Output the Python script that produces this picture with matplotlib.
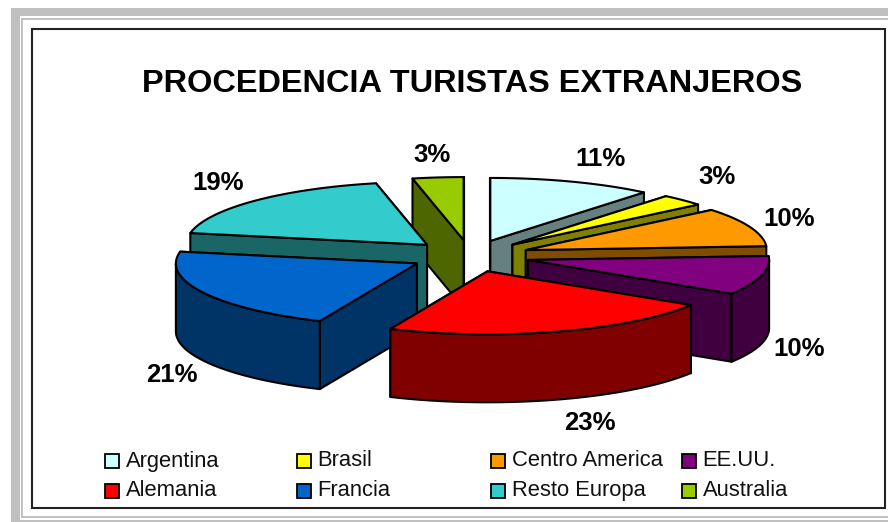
import numpy as np
import matplotlib
matplotlib.use("Agg")
import matplotlib.pyplot as plt
from matplotlib.patches import Polygon, Rectangle

# Share of tourists by country of origin (labels in the chart are rounded)
countries = ["Argentina", "Brasil", "Centro America", "EE.UU.",
             "Alemania", "Francia", "Resto Europa", "Australia"]
shares = [11, 3, 10, 10, 22.6, 21.4, 18.6, 3.4]
top_colors = ["#CCFFFF", "#FFFF00", "#FF9900", "#800080",
              "#FF0000", "#0066CC", "#33CCCC", "#99CC00"]
side_colors = ["#668080", "#808000", "#804D00", "#400040",
               "#800000", "#003366", "#1A6666", "#4D6600"]

# pie geometry, in pixels
CX, CY = 470, 256
RX, RY = 241, 63
EXPLODE_X, EXPLODE_Y = 60, 16
DEPTH = 68
LW = 1.5

fig = plt.figure(figsize=(8.88, 5.22), dpi=100)
ax = fig.add_axes([0, 0, 1, 1])
ax.set_xlim(0, 888)
ax.set_ylim(522, 0)
ax.axis("off")

# grey page border
grey = "#C0C0C0"
for x, y, w, h in [(11, 8, 877, 8), (11, 8, 9, 514), (21, 18, 867, 2), (21, 18, 2, 500),
                   (21, 516, 867, 2), (11, 520, 877, 2)]:
    ax.add_patch(Rectangle((x, y), w, h, fc=grey, ec="none"))
ax.add_patch(Rectangle((32, 29), 853, 479, fc="white", ec="#222222", lw=LW))


def rim(apex, deg):
    a = np.radians(deg)
    return apex[0] + RX * np.sin(a), apex[1] - RY * np.cos(a)


def draw_slice(start, end, top, side):
    mid = np.radians((start + end) / 2)
    apex = (CX + EXPLODE_X * np.sin(mid), CY - EXPLODE_Y * np.cos(mid))

    # flat cut faces, the one nearer the viewer goes last
    for deg in sorted([start, end], key=lambda d: rim(apex, d)[1]):
        p = rim(apex, deg)
        face = [apex, p, (p[0], p[1] + DEPTH), (apex[0], apex[1] + DEPTH)]
        ax.add_patch(Polygon(face, fc=side, ec="black", lw=LW, joinstyle="round"))

    # outer wall, only the part facing the viewer
    wall_start, wall_end = max(start, 90), min(end, 270)
    if wall_start < wall_end:
        upper = [rim(apex, d) for d in np.linspace(wall_start, wall_end, 60)]
        lower = [(x, y + DEPTH) for x, y in upper[::-1]]
        ax.add_patch(Polygon(upper + lower, fc=side, ec="black", lw=LW, joinstyle="round"))

    arc = [rim(apex, d) for d in np.linspace(start, end, 60)]
    ax.add_patch(Polygon([apex] + arc, fc=top, ec="black", lw=LW, joinstyle="round"))


edges = np.cumsum([0] + shares) / sum(shares) * 360
slices = list(zip(edges[:-1], edges[1:], top_colors, side_colors))
# back to front
slices.sort(key=lambda s: -np.cos(np.radians((s[0] + s[1]) / 2)))
for start, end, top, side in slices:
    draw_slice(start, end, top, side)

ax.text(472, 92, "PROCEDENCIA TURISTAS EXTRANJEROS", family="Liberation Sans",
        fontsize=23.4, fontweight="bold", ha="center", va="baseline")

label_pos = [(600, 159), (717, 177), (789, 219), (799, 349),
             (590, 423), (172, 375), (218, 183), (432, 155)]
for share, (x, y) in zip(shares, label_pos):
    ax.text(x, y, f"{share:.0f}%", family="Liberation Sans", fontsize=18.5,
            fontweight="bold", ha="center", va="center")

# legend, 4 columns by 2 rows
legend_x = [105, 297, 491, 682]
legend_y = [461, 490.5]
for i, name in enumerate(countries):
    x = legend_x[i % 4]
    y = legend_y[i // 4]
    ax.add_patch(Rectangle((x, y - 7), 14, 14, fc=top_colors[i], ec="black", lw=1.3))
    ax.text(x + 20.5, y + 5.5, name, family="Liberation Sans", fontsize=15.8,
            ha="left", va="baseline", color="#111111")

fig.savefig("out.png", dpi=100)
